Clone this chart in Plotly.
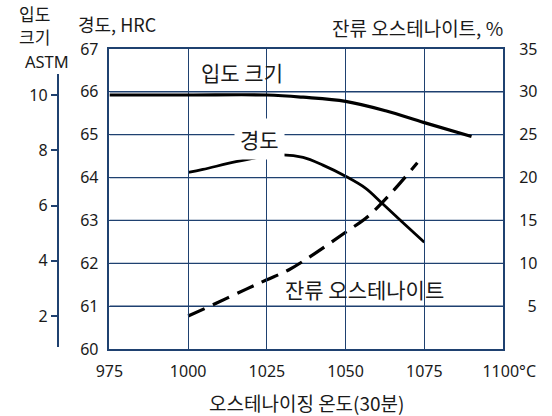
import plotly.graph_objects as go

# Austenitizing temperature (°C) sample points for each curve
grain_temp = [975, 1000, 1025, 1036.5, 1050, 1062.7, 1075, 1090]
grain_astm = [10.0, 10.0, 10.0, 9.92, 9.77, 9.43, 9.0, 8.5]

hard_temp = [1000, 1004.7, 1015.2, 1024.9, 1030, 1036.5, 1042.8, 1050.3, 1056.4, 1061.6, 1067.9, 1075]
hard_hrc = [64.12, 64.19, 64.37, 64.50, 64.53, 64.47, 64.29, 64.02, 63.75, 63.40, 62.97, 62.49]

ra_temp = [1000, 1008.9, 1018.3, 1024.8, 1031.9, 1040.3, 1050, 1057, 1064.4, 1072.8]
ra_pct = [3.85, 5.33, 6.96, 8.05, 9.22, 11.16, 13.62, 15.43, 18.16, 21.73]

x_ticks = [975, 1000, 1025, 1050, 1075, 1100]
x_ticktext = ["975", "1000", "1025", "1050", "1075", "\u00a0\u00a0\u00a01100°C"]
hrc_ticks = [60, 61, 62, 63, 64, 65, 66, 67]
ra_ticks = [5, 10, 15, 20, 25, 30, 35]
ra_ticktext = ["\u00a0\u00a05", "10", "15", "20", "25", "30", "35"]
astm_ticks = [2, 4, 6, 8, 10]
astm_range = [0.878, 10.76]    # 10 sits on the 66 HRC line, 2 units per 55 px

NAVY = "#1f4170"
INK = "#1a1a1a"
CLEAR = "rgba(0,0,0,0)"
KR = "Noto Sans CJK KR"
NUM = "Noto Sans, Noto Sans CJK KR"

W, H = 552, 416
ML, MR, MT, MB = 20, 49, 49, 67
PW, PH = W - ML - MR, H - MT - MB


def px(x):
    return (x - ML) / PW


def py(y):
    return (H - MB - y) / PH


fig = go.Figure()

# horizontal grid rules at the inner hardness ticks
for v in hrc_ticks[1:-1]:
    fig.add_trace(go.Scatter(x=[x_ticks[0], x_ticks[-1]], y=[v, v], xaxis="x", yaxis="y",
                             mode="lines", line=dict(color=NAVY, width=1.3),
                             showlegend=False, hoverinfo="skip"))

fig.add_trace(go.Scatter(x=grain_temp, y=grain_astm, xaxis="x", yaxis="y3",
                         mode="lines", line=dict(color="#000", width=3.2, shape="spline"),
                         showlegend=False, hoverinfo="skip"))
fig.add_trace(go.Scatter(x=hard_temp, y=hard_hrc, xaxis="x", yaxis="y",
                         mode="lines", line=dict(color="#000", width=2.8, shape="spline"),
                         showlegend=False, hoverinfo="skip"))
fig.add_trace(go.Scatter(x=ra_temp, y=ra_pct, xaxis="x", yaxis="y2",
                         mode="lines", line=dict(color="#000", width=3.2, shape="spline",
                                                 dash="18px,9px"),
                         showlegend=False, hoverinfo="skip"))

x_dom0 = px(104.5)
fig.update_layout(
    width=W, height=H,
    margin=dict(l=ML, r=MR, t=MT, b=MB),
    paper_bgcolor="white", plot_bgcolor=CLEAR,
    font=dict(family=NUM, size=16, color=INK),
    xaxis=dict(domain=[x_dom0, 1], range=[975, 1100], tickvals=x_ticks, ticktext=x_ticktext,
               showgrid=True, gridcolor=NAVY, gridwidth=1.3, zeroline=False,
               showline=True, linecolor=NAVY, linewidth=1.6, mirror=True,
               ticks="outside", ticklen=7, tickcolor=CLEAR, tickfont=dict(size=16)),
    yaxis=dict(range=[60, 67], tickvals=hrc_ticks, showgrid=True, gridcolor=NAVY,
               gridwidth=1.3, zeroline=False, showline=True, linecolor=NAVY,
               linewidth=1.6, mirror=True, ticks="outside", ticklen=6,
               tickcolor=CLEAR, tickfont=dict(size=16)),
    yaxis2=dict(range=[0, 35], tickvals=ra_ticks, ticktext=ra_ticktext, overlaying="y",
                side="right", anchor="x", showgrid=False,
                zeroline=False, showline=False,
                ticks="outside", ticklen=12, tickcolor=CLEAR, tickfont=dict(size=16)),
    # grain-size scale: its own shorter span, standing left of the hardness labels
    yaxis3=dict(range=astm_range, domain=[py(347), py(74)], anchor="free",
                position=px(52), side="left", tickvals=astm_ticks, showgrid=False,
                zeroline=False, showline=True, linecolor=NAVY, linewidth=1.6,
                ticks="outside", ticklen=6, tickcolor=NAVY, tickwidth=1.6,
                tickfont=dict(size=16)),
)

annotations = [
    dict(text="입도", x=px(12), y=py(13.5), xanchor="left", yanchor="middle",
         font=dict(family=KR, size=17), borderpad=0),
    dict(text="크기", x=px(12), y=py(36.5), xanchor="left", yanchor="middle",
         font=dict(family=KR, size=17), borderpad=0),
    dict(text="ASTM", x=px(41), y=py(61), xanchor="center", yanchor="middle",
         font=dict(size=16.5), borderpad=0),
    dict(text="경도, HRC", x=px(71), y=py(24), xanchor="left", yanchor="middle",
         font=dict(family=KR, size=18)),
    dict(text="잔류 오스테나이트, %", x=px(505), y=py(27), xanchor="right", yanchor="middle",
         font=dict(family=KR, size=19)),
    dict(text="오스테나이징 온도(30분)", x=px(305), y=py(402), xanchor="center",
         yanchor="middle", font=dict(family=KR, size=19), borderpad=0),
    dict(text="입도 크기", x=px(195), y=py(72), xanchor="left", yanchor="middle",
         font=dict(family=KR, size=21)),
    dict(text="경도", x=px(256), y=py(139), xanchor="center", yanchor="middle",
         font=dict(family=KR, size=21), bgcolor="white", borderpad=5),
    dict(text="잔류 오스테나이트", x=px(280), y=py(289), xanchor="left", yanchor="middle",
         font=dict(family=KR, size=21)),
]
for a in annotations:
    a.update(xref="paper", yref="paper", showarrow=False)
fig.update_layout(annotations=annotations)

fig.write_html("out.html")
